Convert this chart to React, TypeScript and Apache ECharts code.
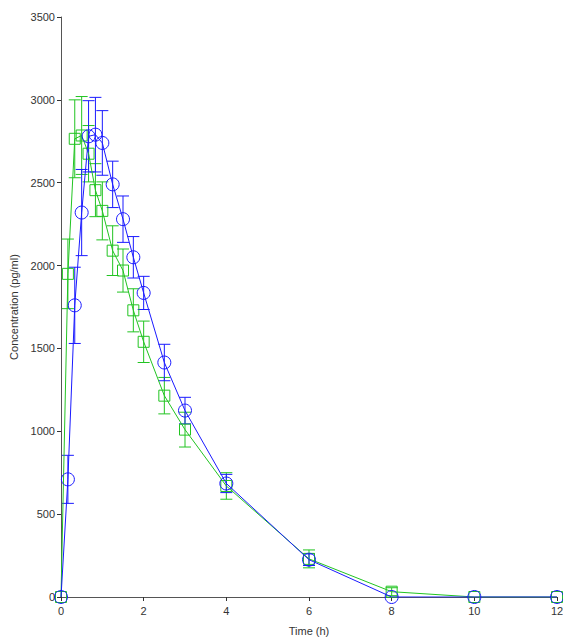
import React, { useEffect, useRef } from "react";
import * as echarts from "echarts";

const times = [0, 0.167, 0.333, 0.5, 0.667, 0.833, 1, 1.25, 1.5, 1.75, 2, 2.5, 3, 4, 6, 8, 10, 12];
const blueMean = [0, 710, 1760, 2320, 2780, 2790, 2740, 2490, 2280, 2050, 1835, 1415, 1125, 685, 225, 0, 0, 0];
const blueSD = [0, 145, 230, 260, 215, 225, 195, 140, 140, 125, 100, 110, 80, 55, 35, 0, 0, 0];
const greenMean = [0, 1950, 2765, 2785, 2675, 2455, 2330, 2090, 1970, 1730, 1540, 1215, 1010, 670, 230, 32, 0, 0];
const greenSD = [0, 210, 235, 235, 170, 160, 175, 150, 130, 130, 125, 110, 105, 80, 54, 24, 0, 0];

const xTicks = [0, 2, 4, 6, 8, 10, 12];
const yTicks = [0, 500, 1000, 1500, 2000, 2500, 3000, 3500];

const BLUE = "#1a1aff";
const GREEN = "#22c422";

function errData(mean: number[], sd: number[]) {
  return times.map((t, i) => [t, Math.max(0, mean[i] - sd[i]), mean[i] + sd[i], sd[i]]);
}

function errSeries(name: string, mean: number[], sd: number[], color: string) {
  return {
    type: "custom",
    name,
    data: errData(mean, sd),
    z: 1,
    renderItem: (params: any, api: any) => {
      if (api.value(3) <= 0) return { type: "group", children: [] };
      const lo = api.coord([api.value(0), api.value(1)]);
      const hi = api.coord([api.value(0), api.value(2)]);
      const hw = 6;
      const style = { stroke: color, lineWidth: 1 };
      return {
        type: "group",
        children: [
          { type: "line", shape: { x1: lo[0], y1: lo[1], x2: hi[0], y2: hi[1] }, style },
          { type: "line", shape: { x1: hi[0] - hw, y1: hi[1], x2: hi[0] + hw, y2: hi[1] }, style },
          { type: "line", shape: { x1: lo[0] - hw, y1: lo[1], x2: lo[0] + hw, y2: lo[1] }, style },
        ],
      };
    },
  };
}

export default function App() {
  const ref = useRef<HTMLDivElement>(null);
  useEffect(() => {
    if (!ref.current) return;
    document.documentElement.style.overflow = "hidden";
    document.body.style.margin = "0";
    document.body.style.overflow = "hidden";
    const chart = echarts.init(ref.current, undefined, { renderer: "svg" });
    const axisText = { color: "#333", fontFamily: "Liberation Sans, Arial, sans-serif", fontSize: 11 };
    chart.setOption({
      animation: false,
      backgroundColor: "#fff",
      grid: { left: 61, right: 6, top: 17, bottom: 40, containLabel: false, outerBoundsMode: "none" },
      xAxis: {
        type: "value",
        min: 0,
        max: 12,
        interval: 2,
        name: "Time (h)",
        nameLocation: "middle",
        nameGap: 28,
        nameTextStyle: axisText,
        axisLine: { show: true, lineStyle: { color: "#555", width: 1 } },
        axisTick: { show: true, length: 4, lineStyle: { color: "#333" } },
        axisLabel: { ...axisText, margin: 8, formatter: (v: number) => (xTicks.includes(v) ? String(v) : "") },
        splitLine: { show: false },
      },
      yAxis: {
        type: "value",
        min: 0,
        max: 3500,
        interval: 500,
        name: "Concentration (pg/ml)",
        nameLocation: "middle",
        nameGap: 41,
        nameTextStyle: axisText,
        axisLine: { show: true, lineStyle: { color: "#555", width: 1 } },
        axisTick: { show: true, length: 4, lineStyle: { color: "#333" } },
        axisLabel: { ...axisText, margin: 6, formatter: (v: number) => (yTicks.includes(v) ? String(v) : "") },
        splitLine: { show: false },
      },
      series: [
        errSeries("greenErr", greenMean, greenSD, GREEN),
        {
          type: "line",
          name: "green",
          data: times.map((t, i) => [t, greenMean[i]]),
          symbol: "rect",
          symbolSize: 11,
          lineStyle: { color: GREEN, width: 1 },
          itemStyle: { color: "transparent", borderColor: GREEN, borderWidth: 1 },
          z: 2,
        },
        errSeries("blueErr", blueMean, blueSD, BLUE),
        {
          type: "line",
          name: "blue",
          data: times.map((t, i) => [t, blueMean[i]]),
          symbol: "circle",
          symbolSize: 13,
          lineStyle: { color: BLUE, width: 1 },
          itemStyle: { color: "transparent", borderColor: BLUE, borderWidth: 1 },
          z: 3,
        },
      ],
    });
    return () => chart.dispose();
  }, []);
  return <div ref={ref} style={{ width: 563, height: 637 }} />;
}
